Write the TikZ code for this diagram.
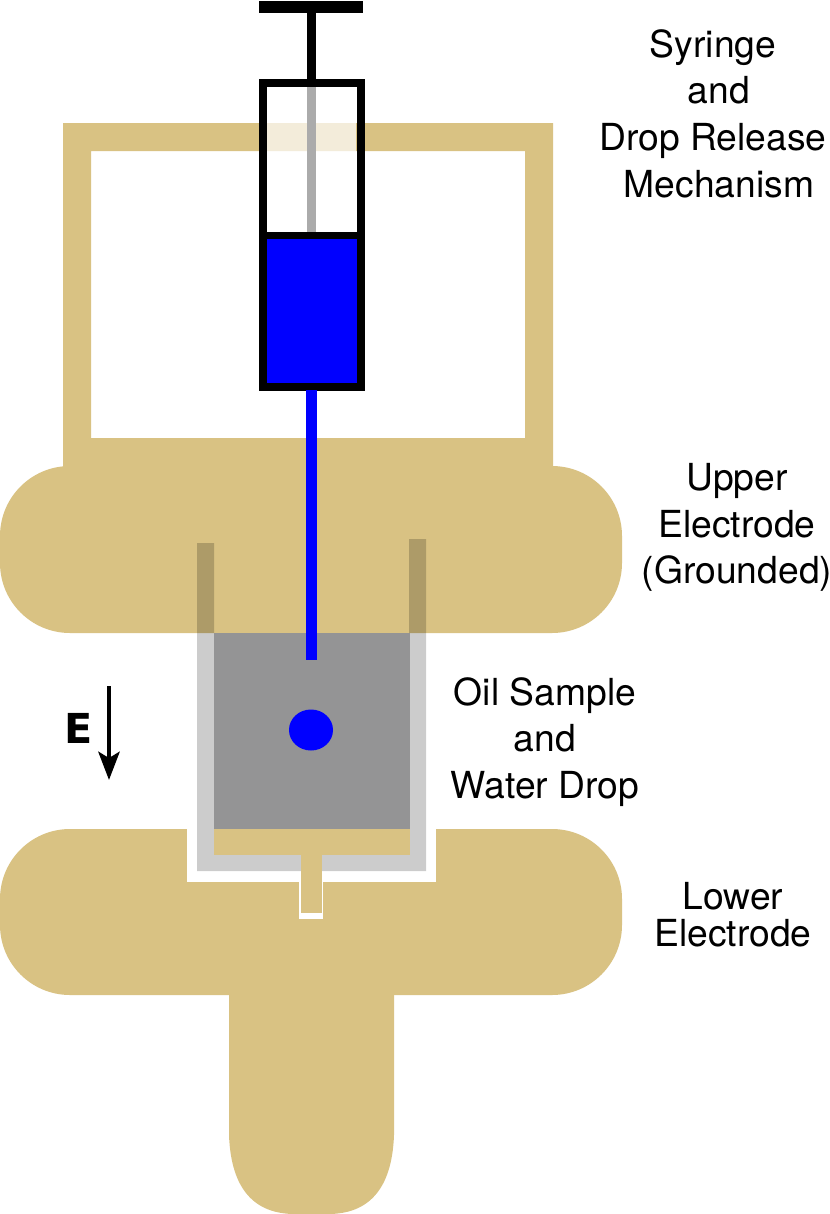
\documentclass[tikz,border=0pt]{standalone}
\usepackage{fontspec}
\setmainfont{TeX Gyre Heros}
\newfontfamily\fieldfont{DejaVu Sans}
\usetikzlibrary{arrows.meta}
\definecolor{brass}{HTML}{D9C283}
\definecolor{oil}{HTML}{949495}
\definecolor{rodgray}{HTML}{ABABAB}

\tikzset{
  brasspart/.style={fill=brass},
  label/.style={align=center, font=\fontsize{21.2}{26.6}\selectfont},
}

\begin{document}
\begin{tikzpicture}[x=0.02cm, y=-0.02cm]
            \useasboundingbox (0,0) rectangle (830,1214);
            % Support Frame
            \fill[brasspart, even odd rule] (63,123) rectangle (553,480) (91,151) rectangle (525,438);
            % Upper Electrode
            \fill[brasspart, rounded corners=1.4cm] (0,466) rectangle (622,633);
            % Lower Electrode
            \fill[brasspart, rounded corners=1.4cm] (0,829) rectangle (622,995);
            \fill[brasspart] (229,980) -- (229,1135) .. controls (231,1190) and (255,1214) .. (295,1214)
                -- (328,1214) .. controls (368,1214) and (392,1190) .. (394,1135) -- (394,980) -- cycle;
            % Recess
            \fill[white] (187,829) rectangle (436,881.5);
            \fill[white] (299,880) rectangle (323,919);
            % Sample Cell
            \fill[black, fill opacity=0.2] (197,543) -- (214,543) -- (214,854) -- (409,854) -- (409,539)
                -- (426,539) -- (426,871) -- (197,871) -- cycle;
            \fill[oil] (214,633) rectangle (409.5,829.5);
            \fill[brasspart] (214,829) rectangle (409.5,854.5);
            \fill[brasspart] (301,854) rectangle (322,912.5);
            % Syringe
            \fill[white, fill opacity=0.7] (267,87) rectangle (356,231);
            \fill[rodgray] (307,85) rectangle (316,233);
            \fill[black] (258.5,1) rectangle (363,12.5);
            \fill[black] (307,12) rectangle (316,82);
            \fill[blue] (265,237) rectangle (358,385);
            \draw[line width=4.5pt] (263.3,83) rectangle (360.7,387);
            \draw[line width=4.5pt] (263.3,235.5) -- (360.7,235.5);
            % Needle and Drop
            \fill[blue] (306,390) rectangle (317,660);
            \fill[blue] (311,730) ellipse (22 and 20.5);
            % Field Arrow
            \coordinate (fieldtop) at (109,686);
            \coordinate (fieldend) at (109,780);
            \draw[line width=2.8pt, -{Stealth[length=16pt, width=12pt, inset=3.5pt]}] (fieldtop) -- (fieldend);
            \node[font=\fieldfont\fontsize{23.5}{23.5}\bfseries\selectfont, inner sep=0pt] (field) at (78.5,728) {E};
            % Labels
            \node[label] (syringe) at (713,113.5) {Syringe\\\hspace*{0.24cm}and\\Drop Release\\\hspace*{0.24cm}Mechanism};
            \node[label] (upper) at (737,527.5) {Upper\\Electrode\\(Grounded)};
            \node[label] (sample) at (545,742) {Oil Sample\\and\\Water Drop};
            \node[label, font=\fontsize{21.2}{21}\selectfont] (lower) at (733,914.5) {Lower\\Electrode};
        \end{tikzpicture}
\end{document}
